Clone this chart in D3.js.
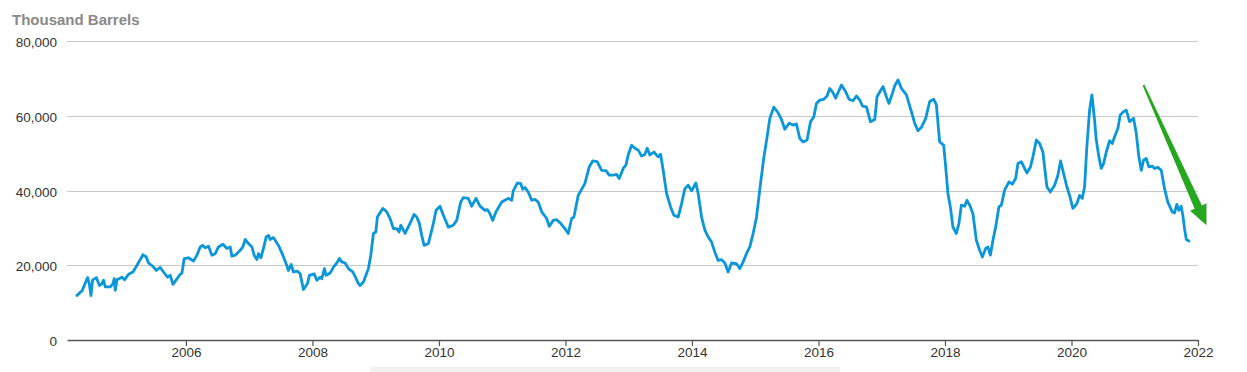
<!DOCTYPE html>
<html>
<head>
<meta charset="utf-8">
<script src="https://cdn.jsdelivr.net/npm/d3@7"></script>
<style>
  html, body { margin: 0; padding: 0; background: #fff; }
  svg { display: block; font-family: "Liberation Sans", Arial, sans-serif; }
</style>
</head>
<body>
<svg id="chart" width="1247" height="372"></svg>
<script>
// ---- data (decimal year, thousand barrels) ----
const years = [
2004.278,2004.330,2004.357,2004.393,2004.445,2004.472,2004.499,2004.524,2004.583,2004.635,
2004.673,2004.698,2004.725,2004.804,2004.847,2004.867,2004.883,2004.910,2004.989,2005.030,
2005.093,2005.163,2005.226,2005.321,2005.373,2005.409,2005.479,2005.531,2005.594,2005.646,
2005.709,2005.752,2005.795,2005.847,2005.910,2005.937,2005.973,2006.041,2006.120,2006.174,
2006.226,2006.262,2006.305,2006.357,2006.411,2006.463,2006.515,2006.585,2006.648,2006.700,
2006.727,2006.779,2006.858,2006.900,2006.937,2006.989,2007.043,2007.079,2007.122,2007.147,
2007.185,2007.226,2007.269,2007.305,2007.332,2007.384,2007.463,2007.532,2007.585,2007.621,
2007.664,2007.700,2007.763,2007.806,2007.858,2007.921,2007.953,2008.027,2008.070,2008.122,
2008.148,2008.190,2008.216,2008.280,2008.332,2008.385,2008.427,2008.464,2008.517,2008.569,
2008.638,2008.675,2008.727,2008.754,2008.806,2008.885,2008.923,2008.964,2009.002,2009.027,
2009.112,2009.175,2009.227,2009.280,2009.333,2009.370,2009.397,2009.464,2009.543,2009.607,
2009.649,2009.690,2009.728,2009.765,2009.833,2009.912,2009.954,2010.017,2010.060,2010.149,
2010.227,2010.281,2010.344,2010.385,2010.464,2010.518,2010.586,2010.649,2010.728,2010.765,
2010.807,2010.850,2010.902,2010.992,2011.044,2011.096,2011.150,2011.175,2011.239,2011.292,
2011.324,2011.360,2011.412,2011.466,2011.518,2011.570,2011.624,2011.703,2011.744,2011.807,
2011.861,2011.924,2011.992,2012.044,2012.098,2012.134,2012.202,2012.256,2012.308,2012.376,
2012.430,2012.502,2012.572,2012.640,2012.692,2012.755,2012.809,2012.850,2012.913,2012.956,
2012.992,2013.046,2013.098,2013.150,2013.204,2013.256,2013.292,2013.335,2013.398,2013.466,
2013.504,2013.545,2013.599,2013.662,2013.714,2013.782,2013.836,2013.888,2013.940,2013.994,
2014.062,2014.098,2014.152,2014.204,2014.256,2014.310,2014.362,2014.414,2014.468,2014.520,
2014.572,2014.626,2014.705,2014.757,2014.809,2014.872,2014.915,2014.967,2015.021,2015.084,
2015.136,2015.188,2015.231,2015.294,2015.362,2015.415,2015.468,2015.536,2015.599,2015.652,
2015.705,2015.757,2015.820,2015.874,2015.926,2015.968,2016.021,2016.084,2016.136,2016.178,
2016.221,2016.273,2016.310,2016.363,2016.431,2016.483,2016.547,2016.600,2016.653,2016.695,
2016.758,2016.821,2016.890,2016.926,2016.980,2017.021,2017.074,2017.115,2017.169,2017.205,
2017.257,2017.311,2017.390,2017.469,2017.521,2017.573,2017.627,2017.695,2017.758,2017.822,
2017.864,2017.916,2017.980,2018.011,2018.047,2018.085,2018.126,2018.180,2018.221,2018.259,
2018.311,2018.347,2018.390,2018.442,2018.496,2018.548,2018.591,2018.643,2018.679,2018.717,
2018.758,2018.801,2018.853,2018.891,2018.943,2019.011,2019.065,2019.117,2019.153,2019.207,
2019.259,2019.295,2019.349,2019.390,2019.444,2019.496,2019.548,2019.611,2019.665,2019.733,
2019.785,2019.828,2019.875,2019.927,2019.970,2020.022,2020.085,2020.128,2020.171,2020.207,
2020.243,2020.286,2020.323,2020.365,2020.392,2020.433,2020.471,2020.507,2020.550,2020.602,
2020.645,2020.681,2020.733,2020.771,2020.823,2020.866,2020.918,2020.981,2021.024,2021.065,
2021.103,2021.139,2021.182,2021.223,2021.276,2021.313,2021.365,2021.419,2021.471,2021.523,
2021.592,2021.629,2021.665,2021.697,2021.735,2021.760,2021.787,2021.815,2021.856
];
const stocks = [
11900,12800,13100,14600,16700,15100,11900,16000,16700,14600,
15100,16000,14200,14200,15100,16400,13300,16100,16800,16100,
17600,18200,20000,22800,22200,20600,19700,18600,19400,18200,
16800,17300,14900,16100,17600,17900,21800,22000,21100,22700,
24900,25300,24700,25100,22700,23100,24900,25600,24500,24900,
22400,22700,24000,24900,26900,25800,24900,22700,21500,23100,
22000,24500,27600,28000,26900,27400,25300,22700,20400,18600,
20200,18200,18400,17700,13500,15100,17300,17700,16000,16800,
16400,19100,17300,17900,19500,20600,21800,20900,20600,19100,
18200,17000,15100,14600,15500,19100,22700,28500,28900,32900,
35200,34300,32500,29800,29800,28900,30700,28500,31200,33600,
32900,31200,28000,25300,25800,31200,34700,35800,33800,30200,
30700,32000,36900,38100,37900,35800,37900,35800,34700,34900,
33800,32000,34300,36900,37400,37900,37400,39900,42000,41900,
40300,40800,39600,37400,37600,36900,34300,32500,30400,32000,
32200,31200,29800,28500,32500,32900,38700,40300,41900,46300,
47900,47700,45400,45300,44100,44100,44300,43200,45900,46800,
49500,52100,51300,50800,49200,49700,51300,49500,50300,49000,
49700,45400,39200,35600,33400,32900,36500,40500,41400,39900,
42000,39200,32900,29400,27600,26200,23500,21300,21500,20600,
18200,20600,20400,19100,20900,23500,24900,28500,32900,41900,
48800,54400,59300,62300,60800,59000,56400,58000,57500,57800,
53900,53000,53500,58400,59700,63300,64200,64400,65300,67300,
66400,64700,66200,68200,66400,64400,64000,65300,64200,62600,
62400,58400,59000,65100,66700,67800,65100,63300,66000,68000,
69600,67300,65600,61100,58000,56000,56900,59300,63800,64400,
62900,53000,52100,46300,39200,35600,30200,28500,31200,36100,
35800,37400,36100,33800,26700,24000,22200,24500,24900,22700,
26700,30200,35600,36100,40100,42300,41700,43200,47200,47700,
45900,44700,46200,49000,53500,52600,50300,41000,39600,41400,
44100,47900,44600,41000,38700,35200,36500,38700,37900,41000,
51700,61500,65600,58800,53500,49000,45900,47200,50300,53300,
52600,54400,56600,60200,61100,61500,58400,59300,55300,49000,
45400,48100,48600,46300,46500,45900,46200,45400,40500,36900,
34300,34000,36300,34700,35800,33400,29800,26900,26500
];
const yTicks = [0, 20000, 40000, 60000, 80000];
const xTicks = [2006, 2008, 2010, 2012, 2014, 2016, 2018, 2020, 2022];
const xDomain = [2004.12, 2022.0];
const yDomain = [0, 80000];
const axisTitle = "Thousand Barrels";
// annotation arrow: [year, value] tail and tip
const arrowTail = [2021.139, 68200];
const arrowTip = [2022.134, 30700];

// ---- drawing ----
const svg = d3.select("#chart");
const x = d3.scaleLinear().domain(xDomain).range([67, 1198]);
const y = d3.scaleLinear().domain(yDomain).range([340, 41]);

// bottom light band
svg.append("rect").attr("x", 370).attr("y", 367).attr("width", 470).attr("height", 5).attr("fill", "#f2f2f2");

// gridlines
svg.append("g").selectAll("line").data(yTicks.filter(d => d > 0)).join("line")
  .attr("x1", 67).attr("x2", 1198)
  .attr("y1", d => Math.round(y(d)) + 0.5).attr("y2", d => Math.round(y(d)) + 0.5)
  .attr("stroke", "#c8c8c8").attr("stroke-width", 1);

// y labels
svg.append("g").selectAll("text").data(yTicks).join("text")
  .attr("x", 57).attr("y", d => y(d) + 6)
  .attr("text-anchor", "end")
  .attr("font-size", 13.5).attr("fill", "#333")
  .text(d => d3.format(",")(d));

// x axis
const xAxis = d3.axisBottom(x).tickValues(xTicks).tickFormat(d3.format("d")).tickSize(6).tickSizeOuter(0);
const gx = svg.append("g").attr("transform", "translate(0,340)").call(xAxis);
gx.select(".domain").attr("stroke", "#555").attr("stroke-width", 1.6);
gx.selectAll(".tick line").attr("stroke", "#555").attr("stroke-width", 1.2);
gx.selectAll(".tick text").attr("font-size", 13.5).attr("fill", "#333")
  .attr("font-family", "Liberation Sans, Arial, sans-serif").attr("dy", "0.62em");

// title
svg.append("text").attr("x", 12).attr("y", 25)
  .attr("font-size", 15).attr("font-weight", "bold").attr("fill", "#888")
  .text(axisTitle);

// line
const data = years.map((t, i) => [t, stocks[i]]);
const line = d3.line().x(d => x(d[0])).y(d => y(d[1]));
svg.append("path").datum(data).attr("d", line)
  .attr("fill", "none").attr("stroke", "#0a96d8").attr("stroke-width", 2.8)
  .attr("stroke-linejoin", "round").attr("stroke-linecap", "round");

// arrow annotation
const T = [x(arrowTail[0]), y(arrowTail[1])];
const P = [x(arrowTip[0]), y(arrowTip[1])];
const dx = P[0] - T[0], dy = P[1] - T[1];
const len = Math.hypot(dx, dy);
const u = [dx / len, dy / len];
const n = [u[1], -u[0]];
const headLen = 20;
const B = [P[0] - u[0] * headLen, P[1] - u[1] * headLen];
const pt = (c, w) => [c[0] + n[0] * w, c[1] + n[1] * w];
const poly = [pt(T, 1), pt(B, 4), pt(B, 9), P, pt(B, -9), pt(B, -4), pt(T, -1)];
svg.append("polygon").attr("points", poly.map(p => p.join(",")).join(" "))
  .attr("fill", "#27a71f");
</script>
</body>
</html>
